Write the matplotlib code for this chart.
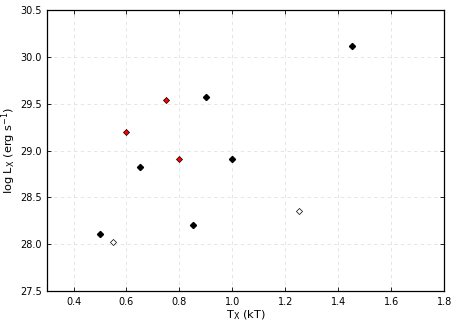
import matplotlib
matplotlib.use("Agg")
import matplotlib.pyplot as plt

# black filled, red filled, open diamonds
tx_black = [0.5, 0.65, 0.85, 0.9, 1.0, 1.45]
lx_black = [28.11, 28.83, 28.21, 29.57, 28.915, 30.115]
tx_red = [0.6, 0.75, 0.8]
lx_red = [29.2, 29.54, 28.915]
tx_open = [0.55, 1.25]
lx_open = [28.02, 28.36]

fig = plt.figure(figsize=(4.57, 3.26), dpi=100)
ax = fig.add_axes([0.103, 0.107, 0.869, 0.862])

ax.plot(tx_black, lx_black, 'D', color='black', mec='black', ms=3.1, zorder=3)
ax.plot(tx_red, lx_red, 'D', color='red', mec='black', mew=0.5, ms=3.1, zorder=3)
ax.plot(tx_open, lx_open, 'D', color='white', mec='black', mew=0.5, ms=3.1, zorder=3)

ax.set_xlim(0.3, 1.8)
ax.set_ylim(27.5, 30.5)
ax.set_xticks([0.4, 0.6, 0.8, 1.0, 1.2, 1.4, 1.6, 1.8])
ax.set_yticks([27.5, 28.0, 28.5, 29.0, 29.5, 30.0, 30.5])
ax.grid(True, ls=(0, (4, 4)), color='#e0e0e0', lw=0.6)
ax.set_axisbelow(True)
ax.tick_params(direction='in', top=True, right=True, labelsize=7, length=3, width=0.6, pad=4)
for s in ax.spines.values():
    s.set_linewidth(0.9)

ax.set_xlabel(r'T$_{\rm X}$ (kT)', fontsize=8.2, labelpad=1)
ax.set_ylabel(r'log L$_{\rm X}$ (erg s$^{-1}$)', fontsize=8.2, labelpad=1)

fig.savefig('out.png', dpi=100)
